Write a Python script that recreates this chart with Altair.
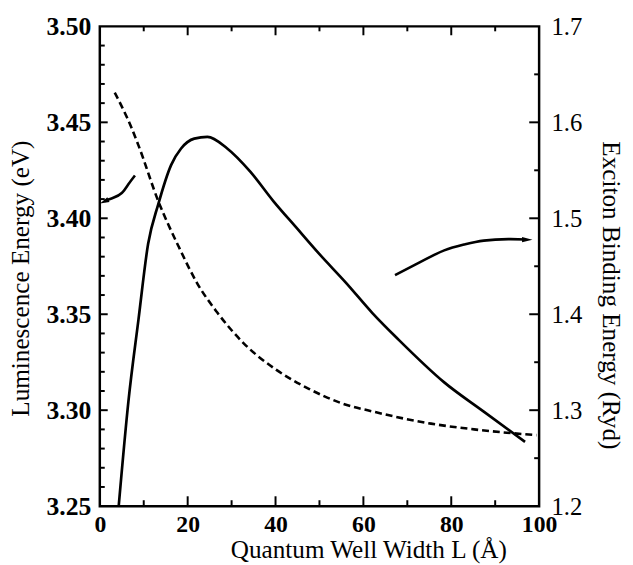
import altair as alt
import pandas as pd

# ---- data ----
# Luminescence energy (eV) vs well width, dashed curve, left axis
lum_L = [3.4, 7.3, 8.8, 13.3, 18.0, 22.2, 26.7, 32.7, 40.2, 47.7, 55.2, 62.7, 75.4, 85.2, 99.4]
lum_E = [3.4655, 3.4467, 3.438, 3.409, 3.385, 3.366, 3.351, 3.335, 3.321, 3.311, 3.3035, 3.299, 3.293, 3.290, 3.287]

# Exciton binding energy (Ryd) vs well width, solid curve, right axis
exc_L = [4.3, 6.5, 8.8, 11.0, 13.3, 16.25, 18.5, 21.5, 24.5, 29.0, 34.2, 39.5, 44.7, 49.9, 56.0, 62.0, 67.9, 78.4, 87.4, 96.8]
exc_B = [1.2, 1.3087, 1.3944, 1.4734, 1.5145, 1.5557, 1.5727, 1.583, 1.5848, 1.5727, 1.5488, 1.5179, 1.4904,
         1.4631, 1.433, 1.4015, 1.374, 1.329, 1.2985, 1.267]

# annotation arrows (data units)
arrowL_x = [8.0, 6.5, 5.0, 3.2, 2.0, 1.2]
arrowL_y = [3.4223, 3.4177, 3.4132, 3.4108, 3.4098, 3.4090]
arrowL_tip = (1.0, 3.4087)
arrowR_x = [67.2, 72.8, 78.4, 82.9, 87.4, 93.0, 97.0]
arrowR_y = [1.4407, 1.4541, 1.4665, 1.4726, 1.4767, 1.4783, 1.4778]
arrowR_tip = (97.3, 1.4777)

# axis ticks
x_labels = [0, 20, 40, 60, 80, 100]
x_major = [20, 40, 60, 80]
x_minor = [10, 30, 50, 70, 90]
left_labels = [3.25, 3.30, 3.35, 3.40, 3.45, 3.50]
left_major = [3.30, 3.35, 3.40, 3.45]
left_minor = [3.26, 3.27, 3.28, 3.29, 3.31, 3.32, 3.33, 3.34, 3.36, 3.37, 3.38, 3.39,
              3.41, 3.42, 3.43, 3.44, 3.46, 3.47, 3.48, 3.49]
right_labels = [1.2, 1.3, 1.4, 1.5, 1.6, 1.7]
right_major = [1.3, 1.4, 1.5, 1.6]
right_minor = [1.25, 1.35, 1.45, 1.55, 1.65]

W, H = 445, 486
FONT = "Liberation Serif"

x_axis = alt.Axis(values=x_labels, format="d", ticks=False, tickSize=0, domain=False, grid=False,
                  labelFont=FONT, labelFontSize=24, labelFontWeight="bold", labelColor="black",
                  labelPadding=7, labelFlush=False,
                  title="Quantum Well Width L (Å)", titleFont=FONT, titleFontSize=25.5,
                  titleFontWeight="normal", titleColor="black",
                  titleX=272, titleY=52, titleAlign="center", titleBaseline="alphabetic")
left_axis = alt.Axis(orient="left", values=left_labels, format=".2f", ticks=False, tickSize=0,
                     domain=False, grid=False, labelFont=FONT, labelFontSize=26,
                     labelFontWeight="bold", labelColor="black", labelPadding=9, labelFlush=False,
                     title="Luminescence Energy (eV)", titleFont=FONT, titleFontSize=25.5,
                     titleFontWeight="normal", titleColor="black", titleAngle=270,
                     titleX=-72, titleY=255, titleAlign="center", titleBaseline="alphabetic")
right_axis = alt.Axis(orient="right", values=right_labels, format=".1f", ticks=False, tickSize=0,
                      domain=False, grid=False, labelFont=FONT, labelFontSize=25,
                      labelFontWeight="normal", labelColor="black", labelPadding=12, labelFlush=False,
                      title="Exciton Binding Energy (Ryd)", titleFont=FONT, titleFontSize=25.5,
                      titleFontWeight="normal", titleColor="black", titleAngle=90,
                      titleX=64, titleY=272, titleAlign="center", titleBaseline="alphabetic")

x_enc = alt.X("x:Q", scale=alt.Scale(domain=[0, 100], nice=False, zero=False), axis=x_axis)
yl = alt.Y("y:Q", scale=alt.Scale(domain=[3.25, 3.5], nice=False, zero=False), axis=left_axis)
yr = alt.Y("y:Q", scale=alt.Scale(domain=[1.2, 1.7], nice=False, zero=False), axis=right_axis)

lum_df = pd.DataFrame({"x": lum_L, "y": lum_E})
exc_df = pd.DataFrame({"x": exc_L, "y": exc_B})
arL_df = pd.DataFrame({"x": arrowL_x, "y": arrowL_y, "o": list(range(len(arrowL_x)))})
arR_df = pd.DataFrame({"x": arrowR_x, "y": arrowR_y, "o": list(range(len(arrowR_x)))})
tipL_df = pd.DataFrame({"x": [arrowL_tip[0]], "y": [arrowL_tip[1]]})
tipR_df = pd.DataFrame({"x": [arrowR_tip[0]], "y": [arrowR_tip[1]]})

dashed = alt.Chart(lum_df).mark_line(color="black", strokeWidth=2.6, strokeDash=[7, 4],
                                     interpolate="monotone").encode(x=x_enc, y=yl)
arrowL = alt.Chart(arL_df).mark_line(color="black", strokeWidth=2.6,
                                     interpolate="natural").encode(x=x_enc, y=yl, order="o:Q")
headL = alt.Chart(tipL_df).mark_point(shape="M-1,0 L1,-0.55 L1,0.55 Z", filled=True, size=90,
                                      color="black", opacity=1, angle=335).encode(x=x_enc, y=yl)

xt_major = pd.DataFrame({"x": x_major})
xt_minor = pd.DataFrame({"x": x_minor})
bot_major = alt.Chart(xt_major).mark_rule(color="black", strokeWidth=2).encode(
    x=x_enc, y=alt.value(H), y2=alt.value(H - 10))
bot_minor = alt.Chart(xt_minor).mark_rule(color="black", strokeWidth=2).encode(
    x=x_enc, y=alt.value(H), y2=alt.value(H - 6))
top_major = alt.Chart(xt_major).mark_rule(color="black", strokeWidth=2).encode(
    x=x_enc, y=alt.value(0), y2=alt.value(9))
top_minor = alt.Chart(xt_minor).mark_rule(color="black", strokeWidth=2).encode(
    x=x_enc, y=alt.value(0), y2=alt.value(5))
l_major = alt.Chart(pd.DataFrame({"y": left_major})).mark_rule(color="black", strokeWidth=2).encode(
    y=yl, x=alt.value(0), x2=alt.value(8))
l_minor = alt.Chart(pd.DataFrame({"y": left_minor})).mark_rule(color="black", strokeWidth=2).encode(
    y=yl, x=alt.value(0), x2=alt.value(5))

left_group = alt.layer(dashed, arrowL, headL, l_major, l_minor,
                       bot_major, bot_minor, top_major, top_minor)

solid = alt.Chart(exc_df).mark_line(color="black", strokeWidth=2.7,
                                    interpolate="monotone").encode(x=x_enc, y=yr)
arrowR = alt.Chart(arR_df).mark_line(color="black", strokeWidth=2.6,
                                     interpolate="natural").encode(x=x_enc, y=yr, order="o:Q")
headR = alt.Chart(tipR_df).mark_point(shape="M1,0 L-1,-0.5 L-1,0.5 Z", filled=True, size=110,
                                      color="black", opacity=1).encode(x=x_enc, y=yr)
r_major = alt.Chart(pd.DataFrame({"y": right_major})).mark_rule(color="black", strokeWidth=2).encode(
    y=yr, x=alt.value(W - 10), x2=alt.value(W))
r_minor = alt.Chart(pd.DataFrame({"y": right_minor})).mark_rule(color="black", strokeWidth=2).encode(
    y=yr, x=alt.value(W - 5), x2=alt.value(W))

right_group = alt.layer(solid, arrowR, headR, r_major, r_minor)

chart = alt.layer(left_group, right_group).resolve_scale(y="independent").properties(
    width=W, height=H,
    autosize=alt.AutoSizeParams(type="none"),
    padding={"left": 93, "top": 15, "right": 87, "bottom": 56},
    background="white",
).configure_view(stroke="black", strokeWidth=2.5)

chart.save("out.html", embed_options={"renderer": "svg", "actions": False})
